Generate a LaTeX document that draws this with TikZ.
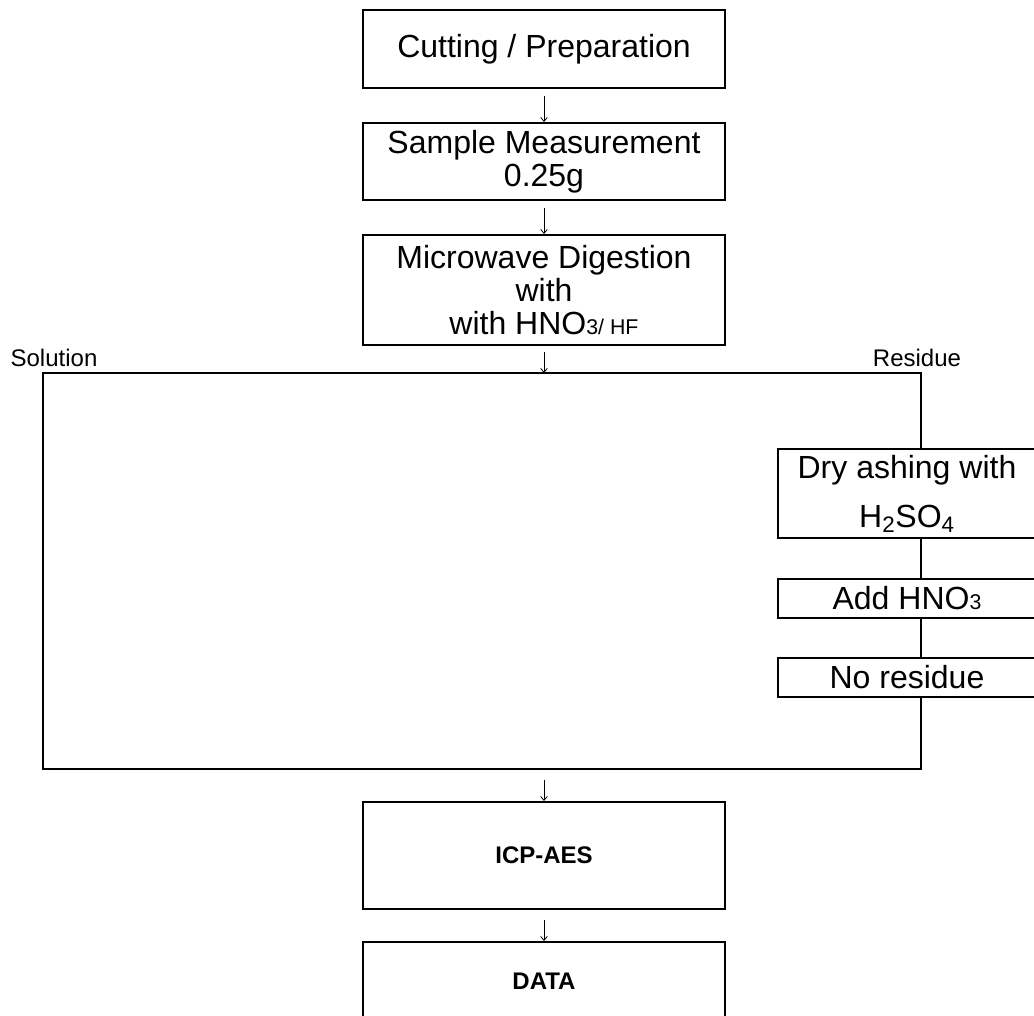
\documentclass[tikz,border=0pt]{standalone}
\usepackage{fontspec}
\setmainfont{Liberation Sans}
\usepackage{tikz}
\usetikzlibrary{arrows.meta, positioning}
\newcommand{\lowsize}{\fontsize{16}{18}\selectfont}
\tikzset{stepbox/.style={draw, line width=1.5pt, fill=white, minimum width=271.5pt, align=center, inner sep=0pt, font=\fontsize{24}{25}\selectfont}}
\tikzset{sidebox/.style={draw, line width=1.5pt, fill=white, minimum width=193.5pt, align=center, inner sep=0pt, font=\fontsize{24}{36.75}\selectfont}}
\tikzset{sidelabel/.style={anchor=base, inner sep=0pt, font=\fontsize{18}{20}\selectfont}}
\tikzset{flowline/.style={line width=1.5pt}}

\begin{document}
\begin{tikzpicture}[x=0.75pt, y=-0.75pt, >={Straight Barb[length=3pt,width=5pt]}, node distance=24.75pt]
\useasboundingbox (0,0) rectangle (1034,1015);
\clip (0,0) rectangle (1034,1015);
\node[stepbox, minimum height=58.5pt] (cut) at (544,49) {Cutting / Preparation};
\node[stepbox, minimum height=57.75pt, below=of cut] (samp) {Sample Measurement\\0.25g};
\node[stepbox, minimum height=82.5pt, below=of samp] (micro) {Microwave Digestion\\with\\with HNO{\lowsize 3/ HF}};
\coordinate (tl) at (43,373);
\coordinate (tr) at (921,373);
\coordinate (bl) at (43,769);
\coordinate (br) at (921,769);
\coordinate (ftop) at (micro |- tl);
\coordinate (fbot) at (micro |- bl);
\node[sidelabel] (sol) at (54,366) {Solution};
\node[sidelabel] (res) at (917,366) {Residue};
\node[sidebox, minimum height=66.75pt] (dry) at (907,493.5) {Dry ashing with\\H\textsubscript{2}SO\textsubscript{4}};
\node[sidebox, minimum height=29.25pt, below=29.25pt of dry] (add) {Add HNO{\lowsize 3}};
\node[sidebox, minimum height=29.25pt, below=28.5pt of add] (nores) {No residue};
\node[stepbox, minimum height=80.25pt, below=24pt of fbot, font=\fontsize{18}{20}\selectfont\bfseries] (icp) {ICP-AES};
\node[stepbox, minimum height=58.5pt, below=23.25pt of icp, font=\fontsize{18}{20}\selectfont\bfseries] (data) {DATA};
\draw [->, line width=0.6pt, shorten <=5pt] (cut) edge (samp) (samp) edge (micro);
\draw [->, line width=0.6pt, shorten <=4.5pt] (micro) edge (ftop);
\draw [->, line width=0.6pt, shorten <=8pt] (fbot) -- (icp);
\draw [->, line width=0.6pt, shorten <=7.5pt] (icp) edge (data);
\draw [flowline] (tr |- dry.north) -- (tr) -- (tl) -- (bl) -- (br) -- (nores.south -| tr);
\draw [flowline] (dry.south -| tr) -- (add.north -| tr);
\draw [flowline] (add.south -| tr) -- (nores.north -| tr);
\end{tikzpicture}
\end{document}
